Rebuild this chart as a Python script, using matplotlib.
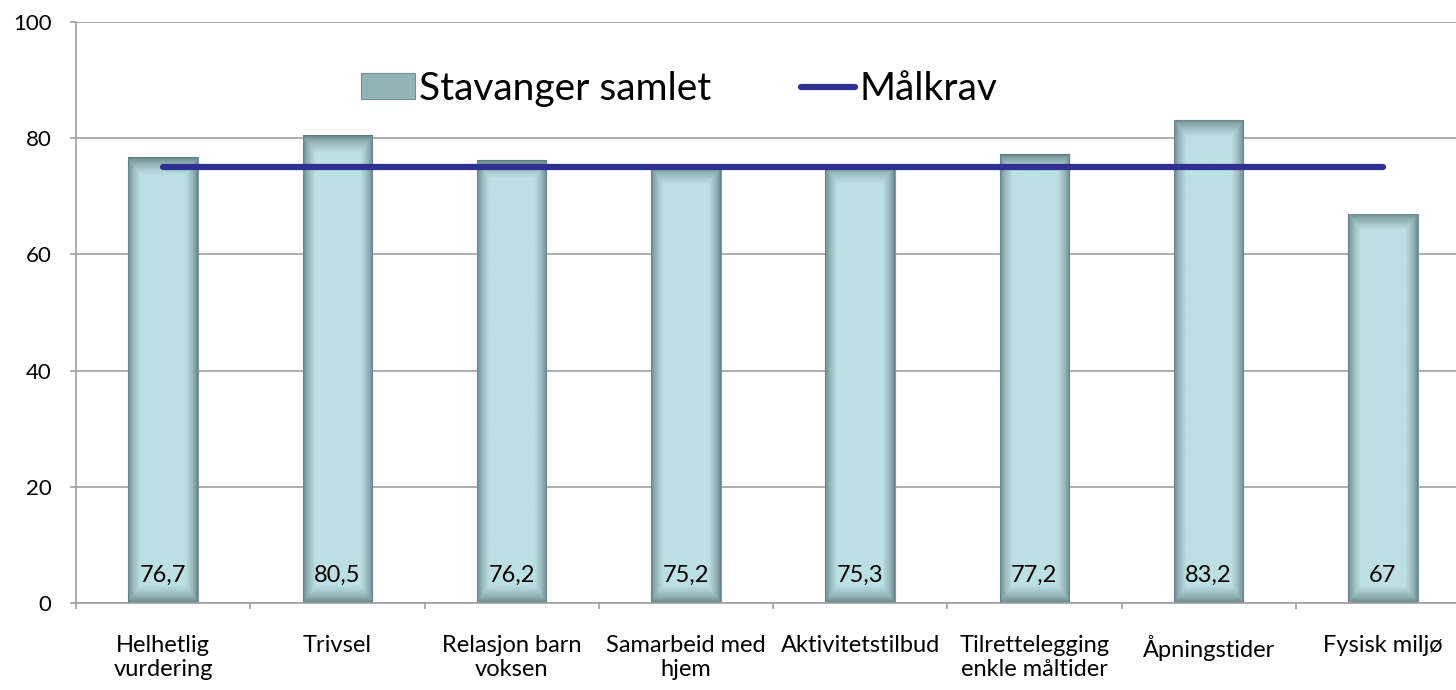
import numpy as np
import matplotlib
matplotlib.use("Agg")
import matplotlib.pyplot as plt
from matplotlib.lines import Line2D
from matplotlib.patches import Rectangle

categories = [
    "Helhetlig\nvurdering", "Trivsel", "Relasjon barn\nvoksen", "Samarbeid med\nhjem",
    "Aktivitetstilbud", "Tilrettelegging\nenkle måltider", "Åpningstider", "Fysisk miljø",
]
values = [76.7, 80.5, 76.2, 75.2, 75.3, 77.2, 83.2, 67]
value_labels = ["76,7", "80,5", "76,2", "75,2", "75,3", "77,2", "83,2", "67"]
target = [75] * len(categories)
yticks = [0, 20, 40, 60, 80, 100]

plt.rcParams["font.family"] = ["Lato", "DejaVu Sans"]

fig = plt.figure(figsize=(14.56, 6.90), dpi=100)
ax = fig.add_axes([76 / 1456, 87 / 690, 1394 / 1456, 581 / 690])

x = np.arange(len(categories))
bars = ax.bar(x, values, width=0.40, color="#bce0e4", edgecolor="#7f9b9d",
              linewidth=0.8, zorder=2)

# bevel-like shading: dark edges, light centre
n = 200
u = np.linspace(0, 1, n)
edge = np.minimum(u, 1 - u)
shade_x = np.clip(edge / 0.18, 0, 1) ** 0.6
light = np.array([0xbc, 0xe0, 0xe4]) / 255
dark = np.array([0x5f, 0x7d, 0x7f]) / 255
for b in bars:
    x0, y0 = b.get_x(), b.get_y()
    w, h = b.get_width(), b.get_height()
    ny = 400
    v = np.linspace(0, 1, ny)
    dv = np.minimum(v * h, (1 - v) * h) / 3.0
    shade_y = np.clip(dv, 0, 1) ** 0.6
    s = np.minimum(shade_x[None, :], shade_y[:, None])
    img = dark[None, None, :] + (light - dark)[None, None, :] * s[:, :, None]
    im = ax.imshow(img, extent=(x0, x0 + w, y0, y0 + h), origin="lower",
                   aspect="auto", zorder=2.1, interpolation="bilinear")
    im.set_clip_path(b)

ax.plot(x, target, color="#2e3192", linewidth=4.5, solid_capstyle="round", zorder=3)

for xi, lab in zip(x, value_labels):
    ax.text(xi, 4.7, lab, ha="center", va="center", fontsize=17, zorder=4)

ax.set_xlim(-0.5, len(categories) - 0.5)
ax.set_ylim(0, 100)
ax.set_yticks(yticks)
ax.set_yticklabels([str(t) for t in yticks], fontsize=16)
ax.yaxis.grid(True, color="#a0a0a0", linewidth=1.2, zorder=0)
ax.set_axisbelow(True)

ax.set_xticks(x)
ax.set_xticklabels(categories, fontsize=17, linespacing=1.2, va="top")
ax.tick_params(axis="x", length=0, pad=23)
ax.set_xticks(np.arange(len(categories) + 1) - 0.5, minor=True)
ax.tick_params(axis="x", which="minor", length=4.5, color="#a0a0a0", width=1.2)
ax.tick_params(axis="y", length=4.5, color="#a0a0a0", width=1.2, pad=13)

for side in ["top", "right"]:
    ax.spines[side].set_visible(False)
for side in ["left", "bottom"]:
    ax.spines[side].set_color("#a0a0a0")
    ax.spines[side].set_linewidth(1.2)

handles = [
    Rectangle((0, 0), 1, 1, facecolor="#93b4b6", edgecolor="#6f8f91", linewidth=0.8),
    Line2D([], [], color="#2e3192", linewidth=4.5, solid_capstyle="round"),
]
fig.legend(handles, ["Stavanger samlet", "Målkrav"], loc="center",
           bbox_to_anchor=(679 / 1456, 1 - 89 / 690), ncol=2, frameon=False,
           fontsize=28, handlelength=1.38, handleheight=0.65, handletextpad=0.12,
           columnspacing=2.3)

fig.savefig("out.png", dpi=100)
